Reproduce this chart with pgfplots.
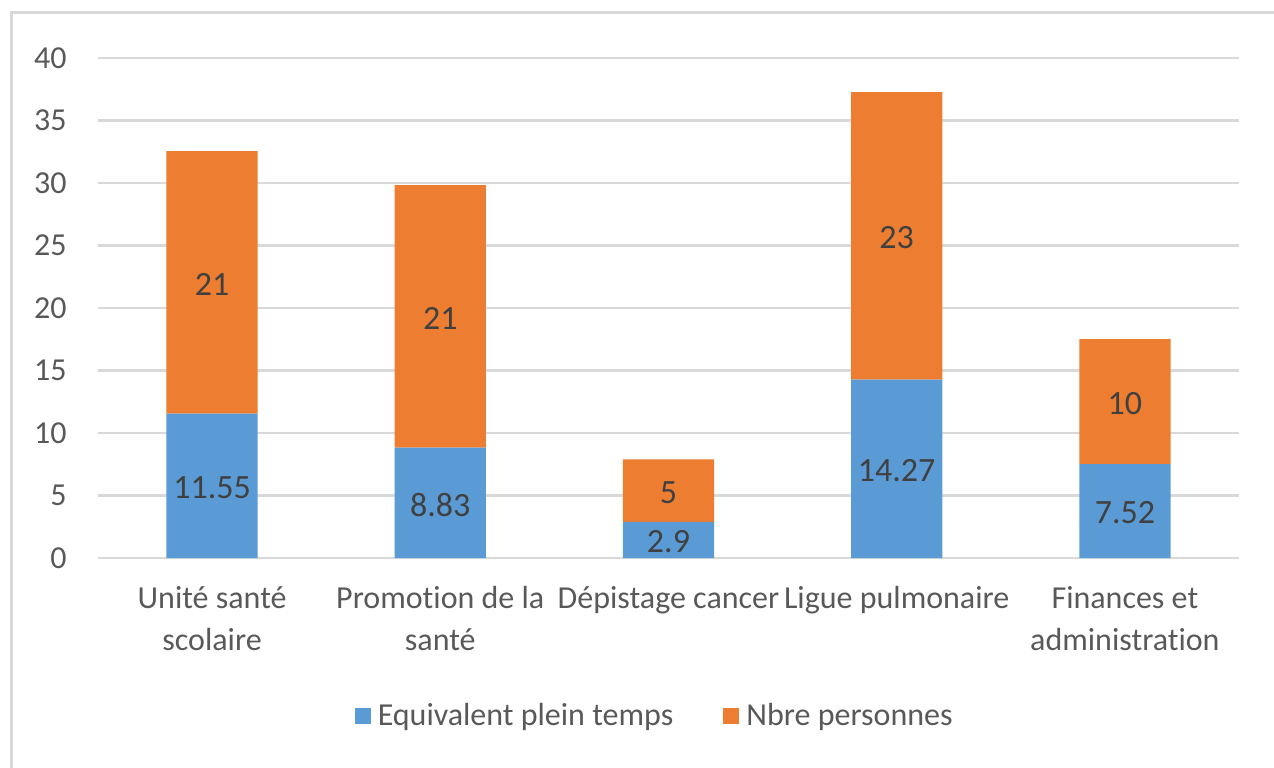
\documentclass[border=0pt]{standalone}
\usepackage{fontspec}
\setmainfont{Carlito}[Ligatures=NoCommon]
\usepackage{pgfplots}
\usepackage{pgfplotstable}
\pgfplotsset{compat=1.18}
\definecolor{cblue}{HTML}{5B9BD5}
\definecolor{corange}{HTML}{ED7D31}
\definecolor{gridc}{HTML}{D9D9D9}
\definecolor{tickc}{HTML}{595959}
\definecolor{lblc}{HTML}{404040}

\pgfplotstableread{
x b o
0 11.55 21
1 8.83 21
2 2.9 5
3 14.27 23
4 7.52 10
}\data

\begin{document}
\begin{tikzpicture}
\path[use as bounding box] (0,0) rectangle (637pt,-383.5pt);
\draw[gridc, line width=1.5pt] (5.5pt,-390pt) -- (5.5pt,-6pt) -- (640pt,-6pt);
\begin{axis}[
  at={(49pt,-279pt)}, anchor=south west,
  scale only axis, width=570.5pt, height=250pt,
  ybar stacked, bar width=0.4,
  xmin=-0.5, xmax=4.5, ymin=0, ymax=40,
  xtick={0,1,2,3,4},
  xticklabels={{Unité santé\\scolaire},{Promotion de la\\santé},{Dépistage cancer},{Ligue pulmonaire},{Finances et\\administration}},
  ytick={0,5,...,40},
  ymajorgrids, grid style={gridc, line width=1.2pt},
  axis line style={draw=none},
  major tick length=0pt,
  tick label style={font=\fontsize{16}{21}\selectfont, text=tickc},
  xticklabel style={align=center, anchor=north, inner sep=0pt, yshift=-14pt},
  yticklabel style={anchor=east, inner sep=0pt, xshift=-15.5pt},
  /pgf/number format/assume math mode=true,
  legend style={at={(0.487,-0.316)}, anchor=center, draw=none, fill=none,
    font=\fontsize{16}{21}\selectfont, text=tickc, nodes={inner sep=0pt},
    /tikz/every odd column/.append style={column sep=3.5pt},
    /tikz/every even column/.append style={column sep=25pt}},
  legend columns=2,
  legend cell align=left,
  legend image code/.code={\fill[#1] (0pt,-4pt) rectangle (8pt,4pt);},
  nodes near coords,
  point meta=explicit,
  nodes near coords style={font=\fontsize{17}{21}\selectfont, text=lblc, anchor=center, inner sep=0pt, yshift=-1pt},
]
\addplot[fill=cblue, draw=none]
  table[x=x, y=b, meta=b] {\data};
\addlegendentry{Equivalent plein temps}
\addplot[fill=corange, draw=none]
  table[x=x, y=o, meta=o] {\data};
\addlegendentry{Nbre personnes}
\end{axis}
\end{tikzpicture}
\end{document}
